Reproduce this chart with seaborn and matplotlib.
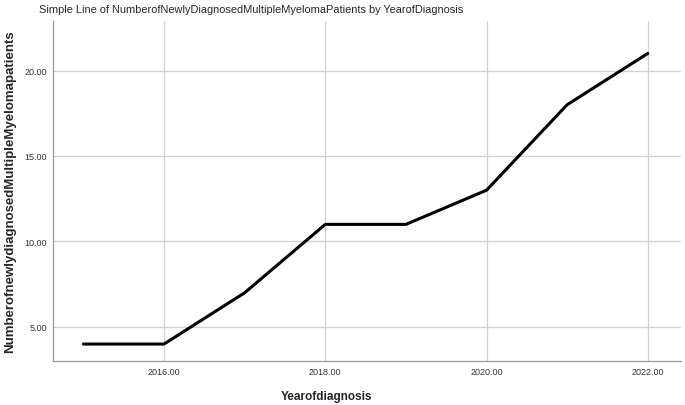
import pandas as pd
import seaborn as sns
import matplotlib.pyplot as plt

## data
years = [2015, 2016, 2017, 2018, 2019, 2020, 2021, 2022]
patients = [4, 4, 7, 11, 11, 13, 18, 21]
df = pd.DataFrame({"Yearofdiagnosis": years, "Patients": patients})

sns.set_style("white")
plt.rcParams['font.family'] = ['Liberation Sans', 'DejaVu Sans']

fig = plt.figure(figsize=(6.85, 4.06), dpi=100)
ax = fig.add_axes([0.077, 0.108, 0.917, 0.838])

sns.lineplot(data=df, x="Yearofdiagnosis", y="Patients", color="black", linewidth=2.2, ax=ax)

ax.set_xlim(2014.62, 2022.41)
ax.set_ylim(3.0, 22.9)
ax.set_xticks([2016, 2018, 2020, 2022])
ax.set_yticks([5, 10, 15, 20])
ax.set_xticklabels([f"{t:.2f}" for t in [2016, 2018, 2020, 2022]])
ax.set_yticklabels([f"{t:.2f}" for t in [5, 10, 15, 20]])
ax.tick_params(axis="both", labelsize=6.5, colors="#333333", length=0, pad=4)

ax.grid(True, color="#d0d0d0", linewidth=0.9)
ax.set_axisbelow(True)
for s in ["top", "right"]:
    ax.spines[s].set_visible(False)
for s in ["left", "bottom"]:
    ax.spines[s].set_color("#999999")
    ax.spines[s].set_linewidth(0.9)

## axis labels and title placed by hand
ax.set_xlabel("")
ax.set_ylabel("")
fig.text(0.477, 1 - 397 / 406, "Yearofdiagnosis", ha="center", va="center",
         fontsize=8.5, fontweight="bold")
fig.text(10 / 685, 1 - 192 / 406, "NumberofnewlydiagnosedMultipleMyelomapatients",
         ha="center", va="center", rotation=90, fontsize=9.5, fontweight="bold")
fig.text(39 / 685, 1 - 10 / 406,
         "Simple Line of NumberofNewlyDiagnosedMultipleMyelomaPatients by YearofDiagnosis",
         ha="left", va="center", fontsize=7.9)

plt.savefig("out.png", dpi=100)
